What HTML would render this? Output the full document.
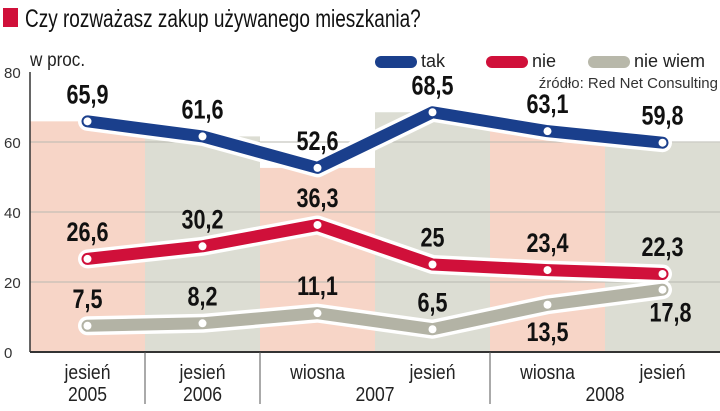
<!DOCTYPE html>
<html><head><meta charset="utf-8"><style>
body{margin:0;background:#fff;width:720px;height:406px;overflow:hidden}
svg text{font-family:"Liberation Sans",sans-serif}
</style></head><body>
<svg id="c" width="720" height="406">
<rect x="3" y="8" width="15" height="19" fill="#d0103a"/>
<text transform="translate(25,27) scale(0.76,1)" font-size="25" fill="#111">Czy rozważasz zakup używanego mieszkania?</text>
<text transform="translate(30,66) scale(0.9,1)" font-size="19" fill="#222">w proc.</text>
<g>
<rect x="375" y="56" width="42" height="12" rx="6" fill="#1a3f8c"/>
<text x="421" y="67" font-size="18" fill="#222">tak</text>
<rect x="486" y="56" width="42" height="12" rx="6" fill="#d0103a"/>
<text x="532" y="67" font-size="18" fill="#222">nie</text>
<rect x="588" y="56" width="42" height="12" rx="6" fill="#b8b8aa"/>
<text x="634" y="67" font-size="18" fill="#222">nie wiem</text>
</g>
<text x="718" y="88" font-size="15" fill="#333" text-anchor="end">źródło: Red Net Consulting</text>
<g id="bands"></g><g id="grid"></g><g id="lines"></g><g id="labels"></g><g id="axis"></g>
</svg>
<script>
const categories=["jesień","jesień","wiosna","jesień","wiosna","jesień"];
const years=["2005","2006","2007","2008"];
const tak=[65.9,61.6,52.6,68.5,63.1,59.8];
const nie=[26.6,30.2,36.3,25,23.4,22.3];
const nieWiem=[7.5,8.2,11.1,6.5,13.5,17.8];
const yTicks=[0,20,40,60,80];
const NS="http://www.w3.org/2000/svg";
const x0=30,bw=115,y0=352,k=3.5;
const X=i=>x0+bw*i+bw/2, Y=v=>y0-v*k;
function mk(p,t,a){const e=document.createElementNS(NS,t);for(const n in a)e.setAttribute(n,a[n]);document.getElementById(p).appendChild(e);return e;}
const fmt=v=>String(v).replace('.',',');
tak.forEach((v,i)=>{const r=mk('bands','rect',{x:x0+bw*i,y:Y(v),width:bw,height:y0-Y(v),fill:i%2?'#dcddd3':'#f7d5c7'});

});
yTicks.forEach(t=>{if(t>0&&t<80){const l=mk('grid','line',{x1:x0,x2:720,y1:Y(t),y2:Y(t),stroke:'#b9b9b0','stroke-width':1});

}
const tx=mk('axis','text',{x:4,y:Y(t)+6,'font-size':15,fill:'#333'});tx.textContent=t;

});
const ax=mk('axis','line',{x1:x0,x2:720,y1:y0,y2:y0,stroke:'#333','stroke-width':2});


const yl=mk('axis','line',{x1:x0,x2:x0,y1:72,y2:y0,stroke:'#333','stroke-width':1.5});


[1,2,4].forEach(i=>{const s=mk('axis','line',{x1:x0+bw*i,x2:x0+bw*i,y1:y0,y2:404,stroke:'#555','stroke-width':1});

});
categories.forEach((c,i)=>{const t=mk('axis','text',{transform:`translate(${X(i)},379) scale(0.88,1)`,'font-size':20,fill:'#222','text-anchor':'middle'});t.textContent=c;

});
const yPos=[X(0),X(1),(X(2)+X(3))/2,(X(4)+X(5))/2];
years.forEach((y,i)=>{const t=mk('axis','text',{transform:`translate(${yPos[i]},401) scale(0.88,1)`,'font-size':20,fill:'#222','text-anchor':'middle'});t.textContent=y;

});
const series=[[tak,'#1a3f8c','tak',[-18,-18,-18,-18,-18,-18],[0,0,0,0,0,0]],
[nie,'#d0103a','nie',[-18,-18,-18,-18,-18,-18],[0,0,0,0,0,0]],
[nieWiem,'#b3b3a5','nie-wiem',[-18,-18,-18,-18,36,32],[0,0,0,0,0,8]]];
series.forEach(([d,col,nm,dy,dx])=>{const pts=d.map((v,i)=>X(i)+','+Y(v)).join(' ');
const o=mk('lines','polyline',{points:pts,fill:'none',stroke:'#fff','stroke-width':19,'stroke-linejoin':'round','stroke-linecap':'round'});


const l=mk('lines','polyline',{points:pts,fill:'none',stroke:col,'stroke-width':12,'stroke-linejoin':'round','stroke-linecap':'round'});


d.forEach((v,i)=>{const c=mk('lines','circle',{cx:X(i),cy:Y(v),r:4,fill:'#fff'});


const t=mk('labels','text',{transform:`translate(${X(i)+dx[i]},${Y(v)+dy[i]}) scale(0.9,1.1)`,'font-size':24,'font-weight':'bold',fill:'#111','text-anchor':'middle'});t.textContent=fmt(v);

});});
</script>
</body></html>
